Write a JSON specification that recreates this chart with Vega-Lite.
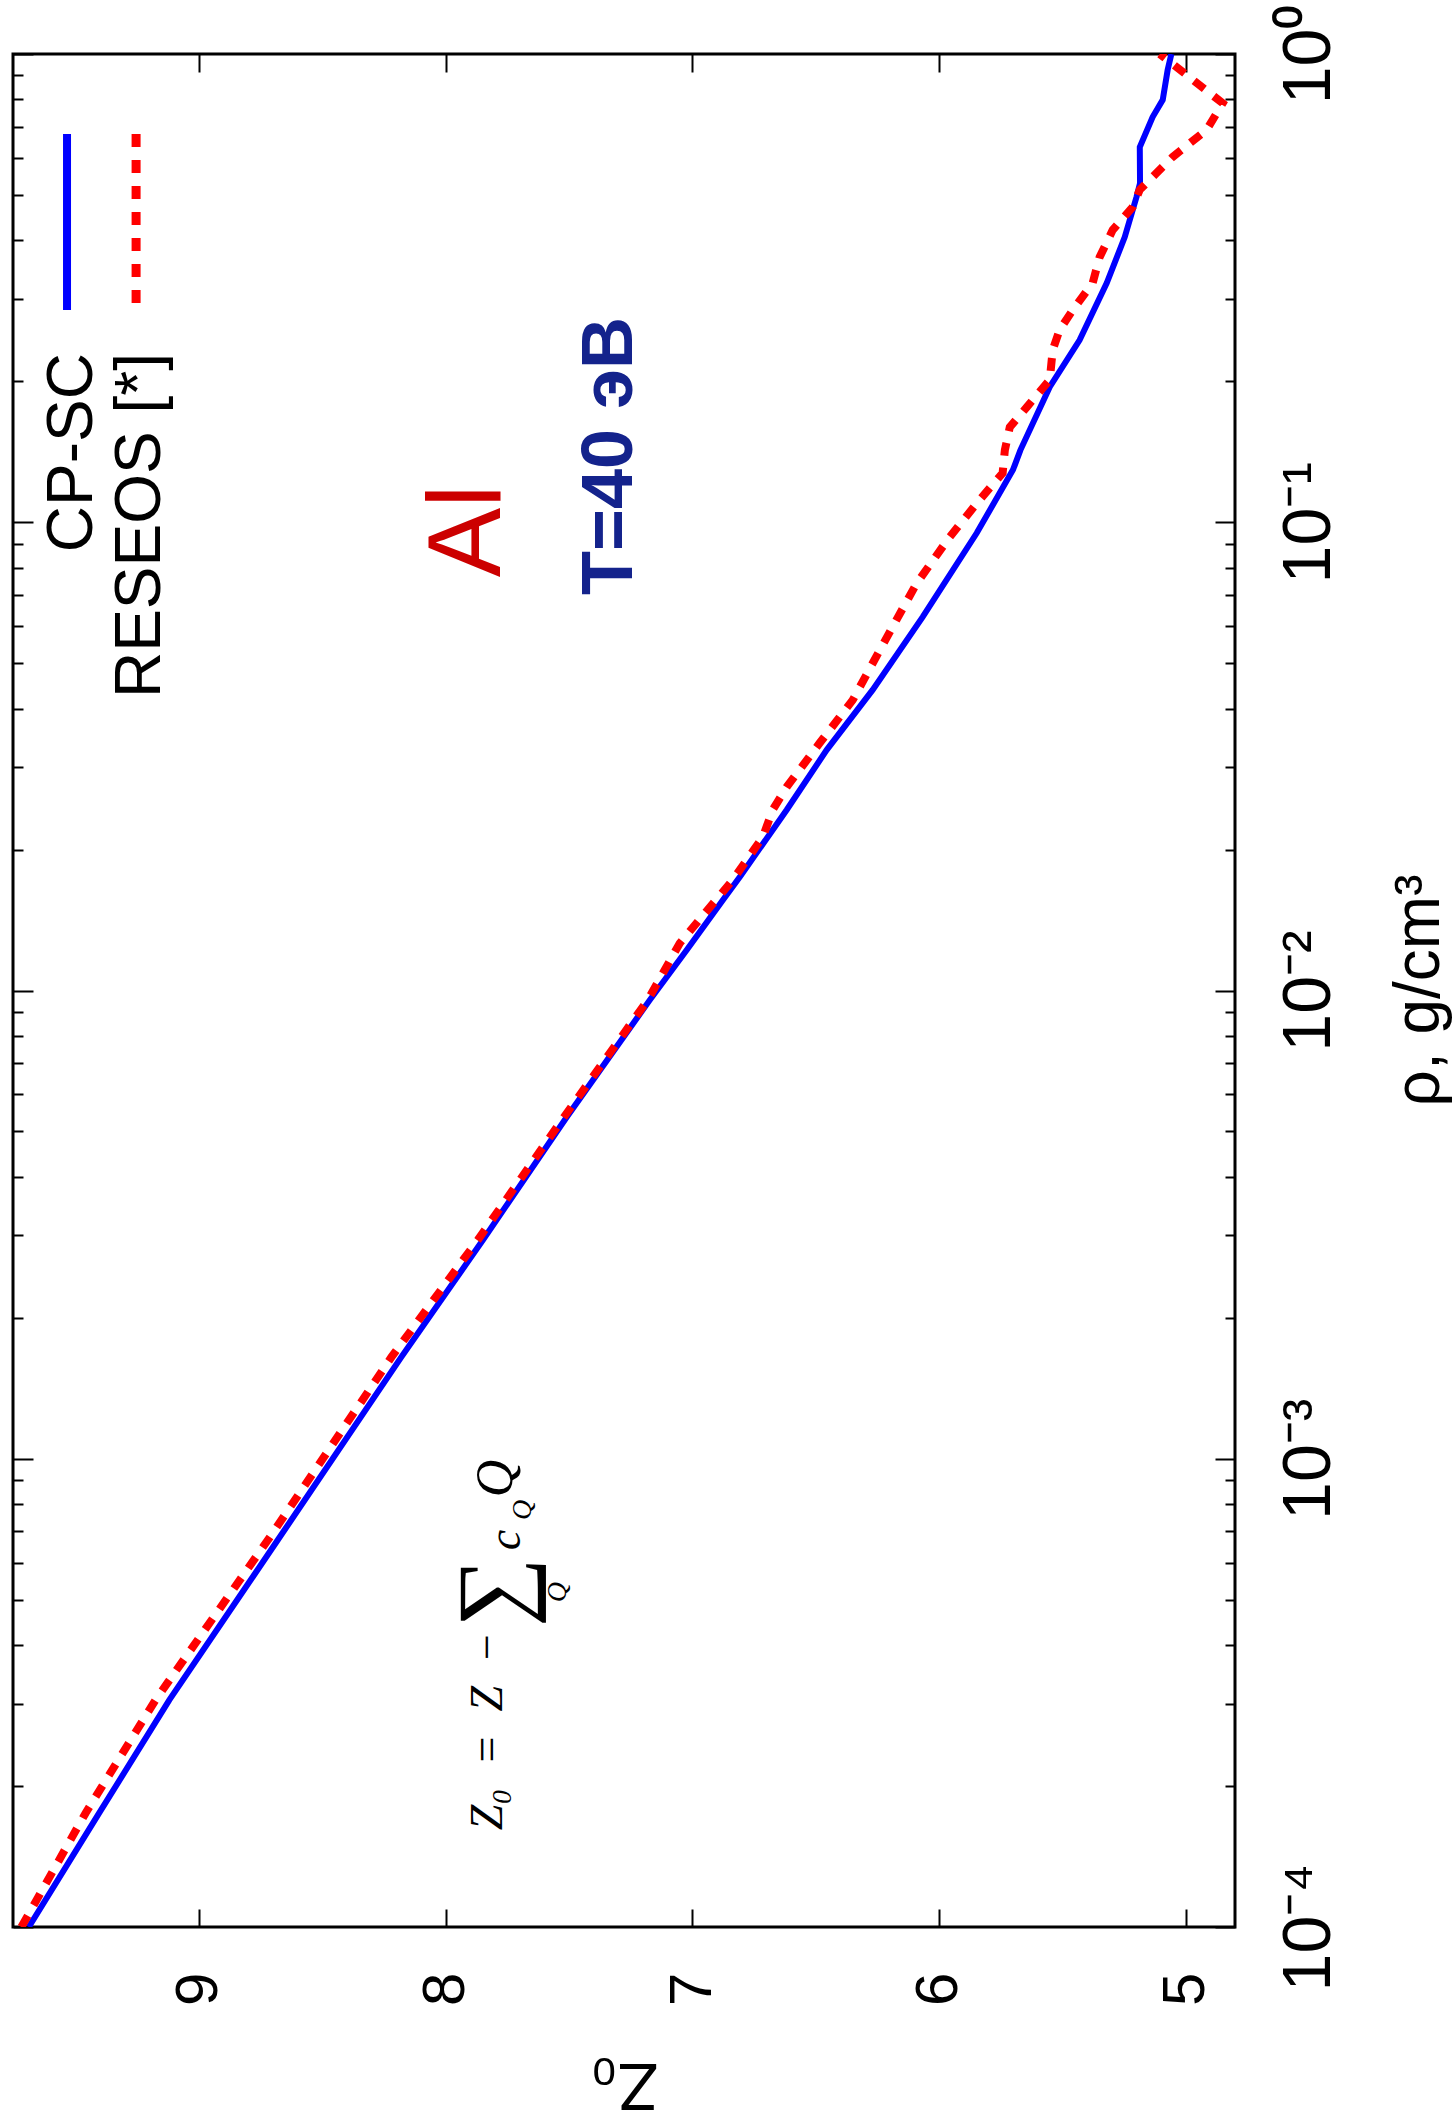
{
  "$schema": "https://vega.github.io/schema/vega-lite/v6.json",
  "width": 1222,
  "height": 1873,
  "autosize": {"type": "none"},
  "padding": {"left": 13, "top": 54, "right": 218, "bottom": 199},
  "background": "white",
  "config": {
    "view": {"stroke": "black", "strokeWidth": 3},
    "axis": {"grid": false, "domain": false, "labelFont": "Liberation Sans", "titleFont": "Liberation Sans", "tickColor": "black", "tickWidth": 2, "labelColor": "black", "titleColor": "black", "labelFlush": false, "labelOverlap": false, "titleFontWeight": "normal"},
    "text": {"font": "Liberation Sans"}
  },
  "datasets": {
    "cpsc": [
      {"rho": 0.0001, "Z0": 9.69}, {"rho": 0.000175, "Z0": 9.405}, {"rho": 0.0003055, "Z0": 9.12},
      {"rho": 0.0006714, "Z0": 8.68}, {"rho": 0.001648, "Z0": 8.18},
      {"rho": 0.002931, "Z0": 7.849}, {"rho": 0.00537, "Z0": 7.509}, {"rho": 0.00955, "Z0": 7.172},
      {"rho": 0.01222, "Z0": 7.022}, {"rho": 0.0156, "Z0": 6.876}, {"rho": 0.0175, "Z0": 6.807},
      {"rho": 0.02432, "Z0": 6.617}, {"rho": 0.03266, "Z0": 6.455}, {"rho": 0.04385, "Z0": 6.269},
      {"rho": 0.06281, "Z0": 6.066}, {"rho": 0.09484, "Z0": 5.847}, {"rho": 0.1294, "Z0": 5.70},
      {"rho": 0.1426, "Z0": 5.67}, {"rho": 0.1945, "Z0": 5.551}, {"rho": 0.2449, "Z0": 5.43},
      {"rho": 0.3243, "Z0": 5.32}, {"rho": 0.4064, "Z0": 5.247}, {"rho": 0.4955, "Z0": 5.199},
      {"rho": 0.5297, "Z0": 5.185}, {"rho": 0.6324, "Z0": 5.186}, {"rho": 0.7335, "Z0": 5.134},
      {"rho": 0.798, "Z0": 5.093}, {"rho": 0.9247, "Z0": 5.073}, {"rho": 1.0, "Z0": 5.058}
    ],
    "reseos": [
      {"rho": 0.0001, "Z0": 9.72}, {"rho": 0.000175, "Z0": 9.46}, {"rho": 0.0003055, "Z0": 9.176},
      {"rho": 0.0006714, "Z0": 8.72}, {"rho": 0.001648, "Z0": 8.22}, {"rho": 0.002931, "Z0": 7.87},
      {"rho": 0.00537, "Z0": 7.52}, {"rho": 0.00955, "Z0": 7.18}, {"rho": 0.01262, "Z0": 7.051},
      {"rho": 0.01722, "Z0": 6.836}, {"rho": 0.02128, "Z0": 6.714}, {"rho": 0.02432, "Z0": 6.674},
      {"rho": 0.02723, "Z0": 6.617}, {"rho": 0.03381, "Z0": 6.483}, {"rho": 0.04169, "Z0": 6.35},
      {"rho": 0.05333, "Z0": 6.24}, {"rho": 0.07413, "Z0": 6.09}, {"rho": 0.09311, "Z0": 5.956},
      {"rho": 0.1117, "Z0": 5.835}, {"rho": 0.1274, "Z0": 5.742}, {"rho": 0.1426, "Z0": 5.733},
      {"rho": 0.1596, "Z0": 5.713}, {"rho": 0.1762, "Z0": 5.644}, {"rho": 0.2014, "Z0": 5.551},
      {"rho": 0.2333, "Z0": 5.539}, {"rho": 0.2576, "Z0": 5.511}, {"rho": 0.2838, "Z0": 5.458},
      {"rho": 0.3243, "Z0": 5.377}, {"rho": 0.3681, "Z0": 5.349}, {"rho": 0.4207, "Z0": 5.296},
      {"rho": 0.471, "Z0": 5.215}, {"rho": 0.5129, "Z0": 5.186}, {"rho": 0.6026, "Z0": 5.053},
      {"rho": 0.6887, "Z0": 4.915}, {"rho": 0.7852, "Z0": 4.85}, {"rho": 1.0, "Z0": 5.105}
    ]
  },
  "layer": [
    {
      "data": {"name": "cpsc"},
      "mark": {"type": "line", "color": "#0000ff", "strokeWidth": 6, "clip": true},
      "encoding": {
        "x": {"field": "Z0", "type": "quantitative",
          "scale": {"domain": [4.8, 9.754], "reverse": true, "nice": false, "zero": false},
          "axis": {"orient": "bottom", "values": [5, 6, 7, 8, 9], "tickSize": -18,
            "labelAngle": -90, "labelAlign": "right", "labelBaseline": "middle", "labelFontSize": 60, "labelPadding": 63,
            "title": "Z₀", "titleFontSize": 66, "titleAngle": 180, "titleX": 611, "titleY": 136, "titleAlign": "center", "titleBaseline": "alphabetic"}},
        "y": {"field": "rho", "type": "quantitative",
          "scale": {"type": "log", "domain": [0.0001, 1], "nice": false},
          "axis": {"orient": "right",
            "values": [0.0001, 0.0002, 0.0003, 0.0004, 0.0005, 0.0006, 0.0007, 0.0008, 0.0009, 0.001, 0.002, 0.003, 0.004, 0.005, 0.006, 0.007, 0.008, 0.009, 0.01, 0.02, 0.03, 0.04, 0.05, 0.06, 0.07, 0.08, 0.09, 0.1, 0.2, 0.3, 0.4, 0.5, 0.6, 0.7, 0.8, 0.9, 1],
            "tickSize": {"condition": {"test": "abs(log(datum.value)/LN10 - round(log(datum.value)/LN10)) < 0.001", "value": -20}, "value": -10},
            "labelExpr": "abs(log(datum.value)/LN10 - round(log(datum.value)/LN10)) > 0.001 ? '' : round(log(datum.value)/LN10) == 0 ? '10⁰' : round(log(datum.value)/LN10) == -1 ? '10⁻¹' : round(log(datum.value)/LN10) == -2 ? '10⁻²' : round(log(datum.value)/LN10) == -3 ? '10⁻³' : '10⁻⁴'",
            "labelAngle": -90, "labelAlign": "center", "labelBaseline": "top", "labelFontSize": 68, "labelPadding": 60,
            "title": "ρ, g/cm³", "titleFontSize": 64, "titleAngle": -90, "titleX": 203, "titleY": 936, "titleAlign": "center", "titleBaseline": "alphabetic"}},
        "order": {"field": "rho", "type": "quantitative"}
      }
    },
    {
      "data": {"name": "reseos"},
      "mark": {"type": "line", "color": "#ff0000", "strokeWidth": 8, "strokeDash": [13, 12], "clip": true},
      "encoding": {
        "x": {"field": "Z0", "type": "quantitative",
          "scale": {"domain": [4.8, 9.754], "reverse": true, "nice": false, "zero": false},
          "axis": {"orient": "top", "values": [5, 6, 7, 8, 9], "tickSize": -18, "labels": false, "title": null}},
        "y": {"field": "rho", "type": "quantitative",
          "scale": {"type": "log", "domain": [0.0001, 1], "nice": false},
          "axis": {"orient": "left",
            "values": [0.0001, 0.0002, 0.0003, 0.0004, 0.0005, 0.0006, 0.0007, 0.0008, 0.0009, 0.001, 0.002, 0.003, 0.004, 0.005, 0.006, 0.007, 0.008, 0.009, 0.01, 0.02, 0.03, 0.04, 0.05, 0.06, 0.07, 0.08, 0.09, 0.1, 0.2, 0.3, 0.4, 0.5, 0.6, 0.7, 0.8, 0.9, 1],
            "tickSize": {"condition": {"test": "abs(log(datum.value)/LN10 - round(log(datum.value)/LN10)) < 0.001", "value": -20}, "value": -10},
            "labels": false, "title": null}},
        "order": {"field": "rho", "type": "quantitative"}
      }
    },
    {
      "data": {"values": [{"Z0": 9.535, "rho": 0.6748, "rho2": 0.284}]},
      "mark": {"type": "rule", "color": "#0000ff", "strokeWidth": 8},
      "encoding": {
        "x": {"field": "Z0", "type": "quantitative", "scale": {"domain": [4.8, 9.754], "reverse": true, "nice": false, "zero": false}, "axis": null},
        "y": {"field": "rho", "type": "quantitative", "scale": {"type": "log", "domain": [0.0001, 1], "nice": false}, "axis": null},
        "y2": {"field": "rho2"}
      }
    },
    {
      "data": {"values": [{"Z0": 9.255, "rho": 0.6748, "rho2": 0.284}]},
      "mark": {"type": "rule", "color": "#ff0000", "strokeWidth": 9, "strokeDash": [13, 13]},
      "encoding": {
        "x": {"field": "Z0", "type": "quantitative", "scale": {"domain": [4.8, 9.754], "reverse": true, "nice": false, "zero": false}, "axis": null},
        "y": {"field": "rho", "type": "quantitative", "scale": {"type": "log", "domain": [0.0001, 1], "nice": false}, "axis": null},
        "y2": {"field": "rho2"}
      }
    },
    {
      "data": {"values": [{"Z0": 9.434, "rho": 0.2298, "t": "CP-SC"}, {"Z0": 9.158, "rho": 0.2298, "t": "RESEOS [*]"}]},
      "mark": {"type": "text", "angle": 270, "align": "right", "baseline": "alphabetic", "fontSize": 64, "font": "Liberation Sans", "color": "black"},
      "encoding": {
        "x": {"field": "Z0", "type": "quantitative", "scale": {"domain": [4.8, 9.754], "reverse": true, "nice": false, "zero": false}, "axis": null},
        "y": {"field": "rho", "type": "quantitative", "scale": {"type": "log", "domain": [0.0001, 1], "nice": false}, "axis": null},
        "text": {"field": "t"}
      }
    },
    {
      "data": {"values": [{"Z0": 7.78, "rho": 0.0958, "t": "Al"}]},
      "mark": {"type": "text", "angle": 270, "align": "center", "baseline": "alphabetic", "fontSize": 104, "font": "Liberation Sans", "color": "#cc0000"},
      "encoding": {
        "x": {"field": "Z0", "type": "quantitative", "scale": {"domain": [4.8, 9.754], "reverse": true, "nice": false, "zero": false}, "axis": null},
        "y": {"field": "rho", "type": "quantitative", "scale": {"type": "log", "domain": [0.0001, 1], "nice": false}, "axis": null},
        "text": {"field": "t"}
      }
    },
    {
      "data": {"values": [{"Z0": 7.245, "rho": 0.1385, "t": "T=40 эВ"}]},
      "mark": {"type": "text", "angle": 270, "align": "center", "baseline": "alphabetic", "fontSize": 72, "fontWeight": "bold", "font": "Liberation Sans", "color": "#14238c"},
      "encoding": {
        "x": {"field": "Z0", "type": "quantitative", "scale": {"domain": [4.8, 9.754], "reverse": true, "nice": false, "zero": false}, "axis": null},
        "y": {"field": "rho", "type": "quantitative", "scale": {"type": "log", "domain": [0.0001, 1], "nice": false}, "axis": null},
        "text": {"field": "t"}
      }
    },
    {
      "data": {"values": [{"Z0": 7.772, "rho": 0.000161, "t": "Z₀\u2002=\u2002Z\u2002−"}, {"Z0": 7.699, "rho": 0.000638, "t": "c"}]},
      "mark": {"type": "text", "angle": 270, "align": "left", "baseline": "alphabetic", "fontSize": 46, "font": "Liberation Serif", "fontStyle": "italic", "color": "black"},
      "encoding": {
        "x": {"field": "Z0", "type": "quantitative", "scale": {"domain": [4.8, 9.754], "reverse": true, "nice": false, "zero": false}, "axis": null},
        "y": {"field": "rho", "type": "quantitative", "scale": {"type": "log", "domain": [0.0001, 1], "nice": false}, "axis": null},
        "text": {"field": "t"}
      }
    },
    {
      "data": {"values": [{"Z0": 7.731, "rho": 0.000828, "t": "Q"}]},
      "mark": {"type": "text", "angle": 270, "align": "left", "baseline": "alphabetic", "fontSize": 52, "font": "Liberation Serif", "fontStyle": "italic", "color": "black"},
      "encoding": {
        "x": {"field": "Z0", "type": "quantitative", "scale": {"domain": [4.8, 9.754], "reverse": true, "nice": false, "zero": false}, "axis": null},
        "y": {"field": "rho", "type": "quantitative", "scale": {"type": "log", "domain": [0.0001, 1], "nice": false}, "axis": null},
        "text": {"field": "t"}
      }
    },
    {
      "data": {"values": [{"Z0": 7.795, "rho": 0.000519, "t": "∑"}]},
      "mark": {"type": "text", "angle": 270, "align": "center", "baseline": "middle", "fontSize": 98, "font": "Liberation Serif", "color": "black"},
      "encoding": {
        "x": {"field": "Z0", "type": "quantitative", "scale": {"domain": [4.8, 9.754], "reverse": true, "nice": false, "zero": false}, "axis": null},
        "y": {"field": "rho", "type": "quantitative", "scale": {"type": "log", "domain": [0.0001, 1], "nice": false}, "axis": null},
        "text": {"field": "t"}
      }
    },
    {
      "data": {"values": [{"Z0": 7.545, "rho": 0.000519, "t": "Q"}, {"Z0": 7.687, "rho": 0.000778, "t": "Q"}]},
      "mark": {"type": "text", "angle": 270, "align": "center", "baseline": "middle", "fontSize": 28, "font": "Liberation Serif", "fontStyle": "italic", "color": "black"},
      "encoding": {
        "x": {"field": "Z0", "type": "quantitative", "scale": {"domain": [4.8, 9.754], "reverse": true, "nice": false, "zero": false}, "axis": null},
        "y": {"field": "rho", "type": "quantitative", "scale": {"type": "log", "domain": [0.0001, 1], "nice": false}, "axis": null},
        "text": {"field": "t"}
      }
    }
  ],
  "resolve": {"axis": {"x": "independent", "y": "independent"}}
}
